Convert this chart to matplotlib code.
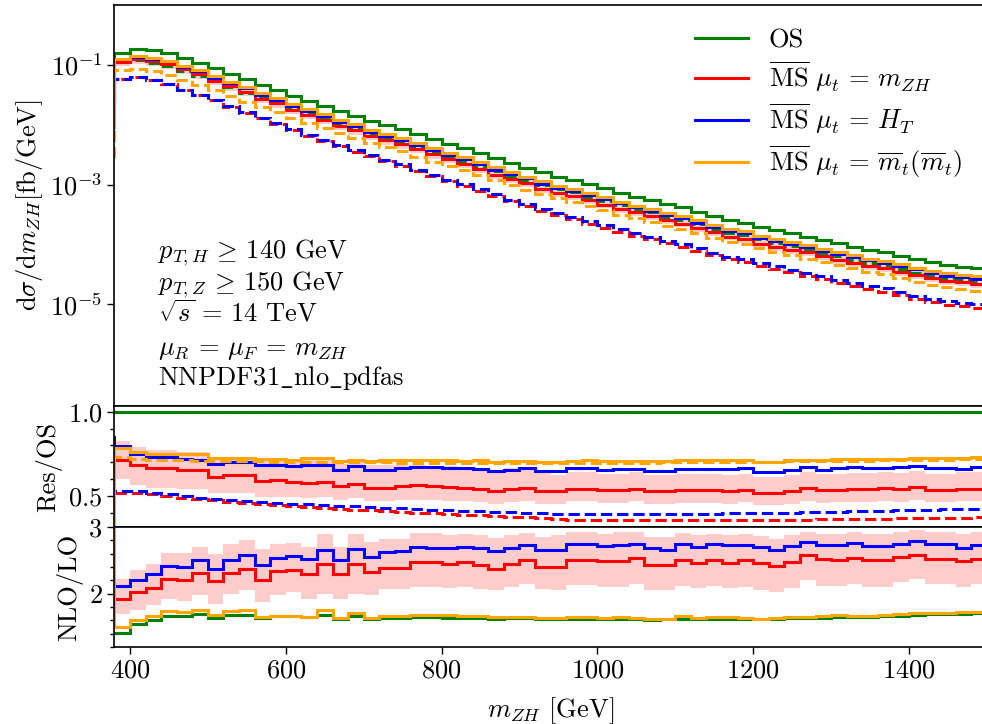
import numpy as np
import matplotlib
matplotlib.use("Agg")
import matplotlib.pyplot as plt
from matplotlib.ticker import MultipleLocator, NullLocator

plt.rcParams['font.family'] = 'serif'
plt.rcParams['font.serif'] = ['cmr10']
plt.rcParams['mathtext.fontset'] = 'cm'
plt.rcParams['axes.formatter.use_mathtext'] = True
plt.rcParams['axes.unicode_minus'] = False
plt.rcParams['font.size'] = 19

# bin edges in m_ZH (GeV), first bin 360-380 sits just left of the view
edges = np.arange(360, 1501, 20)

# OS at NLO, dsigma/dm_ZH [fb/GeV]
os_nlo = [0.03,
          0.157, 0.183, 0.174, 0.157, 0.129, 0.109, 0.0879, 0.0708, 0.0575, 0.0463,
          0.0382, 0.0307, 0.0250, 0.0207, 0.0170, 0.0141, 0.0117, 0.00993, 0.00841, 0.00693,
          0.00573, 0.00479, 0.00405, 0.00334, 0.00275, 0.00228, 0.00192, 0.00161, 0.00136, 0.00120,
          0.00101, 8.69e-4, 7.35e-4, 6.30e-4, 5.55e-4, 4.75e-4, 4.18e-4, 3.54e-4, 2.99e-4, 2.56e-4,
          2.32e-4, 1.99e-4, 1.75e-4, 1.54e-4, 1.35e-4, 1.19e-4, 1.04e-4, 9.20e-5, 8.09e-5, 7.40e-5,
          6.43e-5, 5.65e-5, 5.04e-5, 4.54e-5, 4.27e-5, 4.00e-5]

# Res/OS at NLO
r_red = [0.712,
         0.712, 0.683, 0.663, 0.663, 0.653, 0.653, 0.613, 0.623, 0.623, 0.589,
         0.593, 0.583, 0.577, 0.583, 0.558, 0.573, 0.550, 0.550, 0.558, 0.563,
         0.558, 0.554, 0.550, 0.544, 0.530, 0.544, 0.550, 0.530, 0.530, 0.544,
         0.544, 0.534, 0.534, 0.544, 0.530, 0.530, 0.534, 0.534, 0.534, 0.530,
         0.537, 0.520, 0.520, 0.530, 0.550, 0.534, 0.537, 0.540, 0.540, 0.546,
         0.540, 0.554, 0.537, 0.537, 0.544, 0.544]
r_blue = [0.85,
          0.798, 0.752, 0.732, 0.732, 0.722, 0.716, 0.692, 0.702, 0.702, 0.683,
          0.683, 0.677, 0.683, 0.683, 0.653, 0.677, 0.653, 0.653, 0.663, 0.669,
          0.669, 0.663, 0.663, 0.657, 0.647, 0.653, 0.663, 0.647, 0.647, 0.663,
          0.663, 0.653, 0.659, 0.659, 0.649, 0.649, 0.657, 0.657, 0.657, 0.657,
          0.663, 0.643, 0.643, 0.653, 0.673, 0.653, 0.663, 0.673, 0.667, 0.667,
          0.673, 0.679, 0.667, 0.667, 0.657, 0.673]
r_orange = [0.31,
            0.786, 0.762, 0.752, 0.748, 0.748, 0.748, 0.728, 0.728, 0.728, 0.722,
            0.722, 0.716, 0.728, 0.728, 0.708, 0.716, 0.708, 0.716, 0.716, 0.716,
            0.712, 0.712, 0.708, 0.712, 0.702, 0.708, 0.708, 0.702, 0.704, 0.708,
            0.712, 0.706, 0.706, 0.708, 0.706, 0.708, 0.712, 0.712, 0.714, 0.712,
            0.712, 0.702, 0.704, 0.712, 0.716, 0.716, 0.718, 0.722, 0.720, 0.722,
            0.722, 0.726, 0.724, 0.724, 0.728, 0.732]

# Res/OS at LO (dashed)
rlo_red = [0.518,
           0.518, 0.518, 0.510, 0.500, 0.490, 0.480, 0.474, 0.466, 0.458, 0.451,
           0.444, 0.438, 0.433, 0.428, 0.423, 0.419, 0.415, 0.410, 0.405, 0.400,
           0.396, 0.392, 0.389, 0.386, 0.382, 0.377, 0.372, 0.367, 0.363, 0.360,
           0.358, 0.357, 0.357, 0.357, 0.357, 0.357, 0.357, 0.357, 0.358, 0.358,
           0.358, 0.359, 0.359, 0.360, 0.360, 0.361, 0.362, 0.363, 0.364, 0.365,
           0.366, 0.367, 0.368, 0.369, 0.370, 0.372]
rlo_blue = [0.59,
            0.530, 0.528, 0.520, 0.510, 0.500, 0.490, 0.484, 0.477, 0.470, 0.464,
            0.458, 0.454, 0.450, 0.445, 0.441, 0.438, 0.434, 0.430, 0.426, 0.422,
            0.419, 0.416, 0.413, 0.410, 0.406, 0.402, 0.399, 0.396, 0.394, 0.393,
            0.392, 0.392, 0.392, 0.392, 0.392, 0.392, 0.393, 0.394, 0.395, 0.396,
            0.397, 0.398, 0.399, 0.401, 0.403, 0.405, 0.407, 0.409, 0.411, 0.413,
            0.415, 0.417, 0.419, 0.421, 0.423, 0.425]
rlo_orange = [0.126,
              0.732, 0.718, 0.716, 0.714, 0.712, 0.710, 0.708, 0.707, 0.706, 0.705,
              0.704, 0.703, 0.702, 0.701, 0.700, 0.700, 0.699, 0.699, 0.698, 0.698,
              0.698, 0.697, 0.697, 0.697, 0.697, 0.696, 0.696, 0.696, 0.696, 0.696,
              0.697, 0.697, 0.697, 0.698, 0.698, 0.699, 0.700, 0.700, 0.701, 0.702,
              0.703, 0.703, 0.704, 0.705, 0.706, 0.707, 0.708, 0.709, 0.710, 0.711,
              0.712, 0.714, 0.715, 0.716, 0.718, 0.720]

# scale band of MSbar mu_t = m_ZH, as Res/OS
band_lo = [0.60,
           0.60, 0.565, 0.545, 0.545, 0.54, 0.54, 0.515, 0.515, 0.515, 0.495,
           0.495, 0.492, 0.49, 0.492, 0.475, 0.485, 0.47, 0.47, 0.475, 0.478,
           0.475, 0.472, 0.47, 0.465, 0.455, 0.465, 0.47, 0.455, 0.455, 0.468,
           0.468, 0.46, 0.46, 0.468, 0.455, 0.455, 0.46, 0.46, 0.46, 0.455,
           0.462, 0.447, 0.447, 0.455, 0.472, 0.46, 0.462, 0.465, 0.465, 0.47,
           0.465, 0.477, 0.462, 0.462, 0.468, 0.468]
band_hi = [0.825,
           0.825, 0.79, 0.772, 0.772, 0.762, 0.762, 0.722, 0.725, 0.725, 0.716,
           0.716, 0.716, 0.712, 0.716, 0.692, 0.70, 0.683, 0.683, 0.683, 0.683,
           0.68, 0.675, 0.672, 0.668, 0.655, 0.665, 0.665, 0.652, 0.625, 0.64,
           0.64, 0.63, 0.63, 0.64, 0.625, 0.625, 0.63, 0.63, 0.63, 0.625,
           0.632, 0.615, 0.615, 0.625, 0.645, 0.63, 0.632, 0.636, 0.636, 0.642,
           0.636, 0.65, 0.632, 0.632, 0.64, 0.64]

# NLO/LO
k_os = [1.41,
        1.41, 1.54, 1.60, 1.665, 1.665, 1.69, 1.64, 1.675, 1.685, 1.635,
        1.66, 1.66, 1.65, 1.675, 1.625, 1.66, 1.625, 1.635, 1.64, 1.65,
        1.65, 1.64, 1.635, 1.635, 1.625, 1.63, 1.635, 1.62, 1.615, 1.62,
        1.62, 1.62, 1.62, 1.615, 1.61, 1.625, 1.625, 1.62, 1.625, 1.625,
        1.625, 1.62, 1.625, 1.63, 1.64, 1.635, 1.645, 1.645, 1.65, 1.66,
        1.67, 1.685, 1.69, 1.69, 1.70, 1.71]
k_red = [1.915,
         1.915, 2.025, 2.085, 2.225, 2.20, 2.315, 2.19, 2.315, 2.375, 2.21,
         2.34, 2.36, 2.30, 2.45, 2.30, 2.45, 2.325, 2.385, 2.385, 2.475,
         2.475, 2.45, 2.475, 2.425, 2.375, 2.44, 2.51, 2.40, 2.40, 2.51,
         2.51, 2.49, 2.49, 2.535, 2.425, 2.425, 2.51, 2.46, 2.50, 2.46,
         2.50, 2.46, 2.415, 2.475, 2.575, 2.515, 2.50, 2.535, 2.50, 2.50,
         2.55, 2.585, 2.515, 2.525, 2.49, 2.515]
k_blue = [2.115,
          2.115, 2.21, 2.29, 2.415, 2.40, 2.50, 2.375, 2.51, 2.575, 2.435,
          2.535, 2.565, 2.525, 2.65, 2.51, 2.665, 2.55, 2.625, 2.635, 2.70,
          2.685, 2.69, 2.70, 2.685, 2.635, 2.685, 2.735, 2.65, 2.66, 2.74,
          2.74, 2.715, 2.735, 2.74, 2.685, 2.66, 2.74, 2.70, 2.74, 2.725,
          2.725, 2.70, 2.65, 2.71, 2.775, 2.735, 2.735, 2.765, 2.715, 2.715,
          2.75, 2.79, 2.75, 2.75, 2.69, 2.725]
k_orange = [3.5,
            1.50, 1.61, 1.66, 1.74, 1.725, 1.76, 1.675, 1.74, 1.76, 1.65,
            1.665, 1.665, 1.65, 1.75, 1.64, 1.71, 1.64, 1.66, 1.665, 1.675,
            1.675, 1.675, 1.665, 1.665, 1.65, 1.65, 1.65, 1.64, 1.635, 1.645,
            1.645, 1.64, 1.645, 1.64, 1.625, 1.625, 1.66, 1.64, 1.65, 1.645,
            1.64, 1.625, 1.63, 1.645, 1.655, 1.66, 1.675, 1.665, 1.665, 1.68,
            1.70, 1.715, 1.71, 1.715, 1.72, 1.725]
kband_lo = [1.70,
            1.70, 1.76, 1.825, 1.925, 1.885, 1.975, 1.85, 1.99, 2.05, 1.875,
            1.975, 2.025, 1.925, 2.0, 1.925, 2.0, 1.975, 2.075, 2.075, 2.10,
            2.10, 2.085, 2.10, 2.075, 2.05, 2.10, 2.15, 2.075, 2.06, 2.13,
            2.13, 2.10, 2.10, 2.15, 2.05, 2.05, 2.12, 2.08, 2.12, 2.08,
            2.10, 2.06, 2.02, 2.08, 2.20, 2.12, 2.12, 2.15, 2.10, 2.10,
            2.18, 2.22, 2.14, 2.14, 2.10, 2.15]
kband_hi = [2.225,
            2.225, 2.36, 2.45, 2.615, 2.615, 2.70, 2.60, 2.74, 2.80, 2.675,
            2.74, 2.765, 2.70, 2.89, 2.70, 2.89, 2.775, 2.815, 2.815, 2.915,
            2.91, 2.885, 2.90, 2.875, 2.84, 2.875, 2.91, 2.85, 2.88, 2.92,
            2.92, 2.90, 2.92, 2.93, 2.85, 2.85, 2.91, 2.88, 2.90, 2.88,
            2.90, 2.87, 2.82, 2.88, 2.93, 2.90, 2.89, 2.93, 2.90, 2.90,
            2.92, 2.95, 2.92, 2.92, 2.90, 2.92]

labels = ["OS",
          r"$\overline{\mathrm{MS}}\ \mu_t\,=\,m_{ZH}$",
          r"$\overline{\mathrm{MS}}\ \mu_t\,=\,H_T$",
          r"$\overline{\mathrm{MS}}\ \mu_t\,=\,\overline{m}_t(\overline{m}_t)$"]
colors = ["green", "red", "blue", "orange"]

os_nlo = np.array(os_nlo)
os_lo = os_nlo / np.array(k_os)
ratio_nlo = [np.ones_like(os_nlo), np.array(r_red), np.array(r_blue), np.array(r_orange)]
ratio_lo = [np.ones_like(os_nlo), np.array(rlo_red), np.array(rlo_blue), np.array(rlo_orange)]
kfac = [k_os, k_red, k_blue, k_orange]

lw = 2.2
fig = plt.figure(figsize=(9.82, 7.24), dpi=100)
left, width = 0.1165, 0.8885
ax1 = fig.add_axes([left, 0.4392, width, 0.5539])
ax2 = fig.add_axes([left, 0.2721, width, 0.1671], sharex=ax1)
ax3 = fig.add_axes([left, 0.1064, width, 0.1657], sharex=ax1)

# scale bands
ax1.stairs(os_nlo * np.array(band_hi), edges, baseline=os_nlo * np.array(band_lo),
           fill=True, color="red", alpha=0.2, lw=0)
ax2.stairs(band_hi, edges, baseline=band_lo, fill=True, color="red", alpha=0.2, lw=0)
ax3.stairs(kband_hi, edges, baseline=kband_lo, fill=True, color="red", alpha=0.2, lw=0)

for i in range(4):
    c = colors[i]
    ax1.stairs(os_nlo * ratio_nlo[i], edges, baseline=None, color=c, lw=lw, label=labels[i])
    ax1.stairs(os_lo * ratio_lo[i], edges, baseline=None, color=c, lw=lw, linestyle="--")
    ax2.stairs(ratio_nlo[i], edges, baseline=None, color=c, lw=lw)
    ax2.stairs(ratio_lo[i], edges, baseline=None, color=c, lw=lw, linestyle="--")
    ax3.stairs(kfac[i], edges, baseline=None, color=c, lw=lw)

ax1.set_yscale("log")
ax1.set_ylim(2e-7, 1.0)
ax1.set_yticks([1e-1, 1e-3, 1e-5])
ax1.yaxis.set_minor_locator(NullLocator())
ax1.set_xlim(380, 1500)
ax1.set_ylabel(r"$\mathrm{d}\sigma/\mathrm{d}m_{ZH}[\mathrm{fb/GeV}]$")

ax2.set_ylim(0.3155, 1.034)
ax2.yaxis.set_major_locator(MultipleLocator(0.5))
ax2.yaxis.set_minor_locator(MultipleLocator(0.1))
ax2.set_ylabel("Res/OS")

ax3.set_ylim(1.2, 3.0)
ax3.yaxis.set_major_locator(MultipleLocator(1))
ax3.yaxis.set_minor_locator(MultipleLocator(0.2))
ax3.set_ylabel("NLO/LO")
ax3.xaxis.set_major_locator(MultipleLocator(200))
ax3.set_xlabel(r"$m_{ZH}$ [GeV]", labelpad=9)

for ax in (ax1, ax2):
    ax.tick_params(axis="x", which="both", bottom=False, labelbottom=False)
for ax in (ax1, ax2, ax3):
    ax.tick_params(which="major", length=5, width=1)
    ax.tick_params(which="minor", length=3, width=1)
    for s in ax.spines.values():
        s.set_linewidth(1.2)

txt = [(0.369, r"$p_{T,H}\,\geq\,140$ GeV"),
       (0.289, r"$p_{T,Z}\,\geq\,150$ GeV"),
       (0.210, r"$\sqrt{s}\,=\,14$ TeV"),
       (0.127, r"$\mu_R\,=\,\mu_F\,=\,m_{ZH}$"),
       (0.052, r"NNPDF31$\_$nlo$\_$pdfas")]
for y, t in txt:
    ax1.text(0.05, y, t, transform=ax1.transAxes, va="baseline", ha="left", fontsize=19)

ax1.legend(loc="upper right", bbox_to_anchor=(0.999, 1.0), frameon=False, fontsize=19,
           labelspacing=0.28)

fig.savefig("out.png", dpi=100)
